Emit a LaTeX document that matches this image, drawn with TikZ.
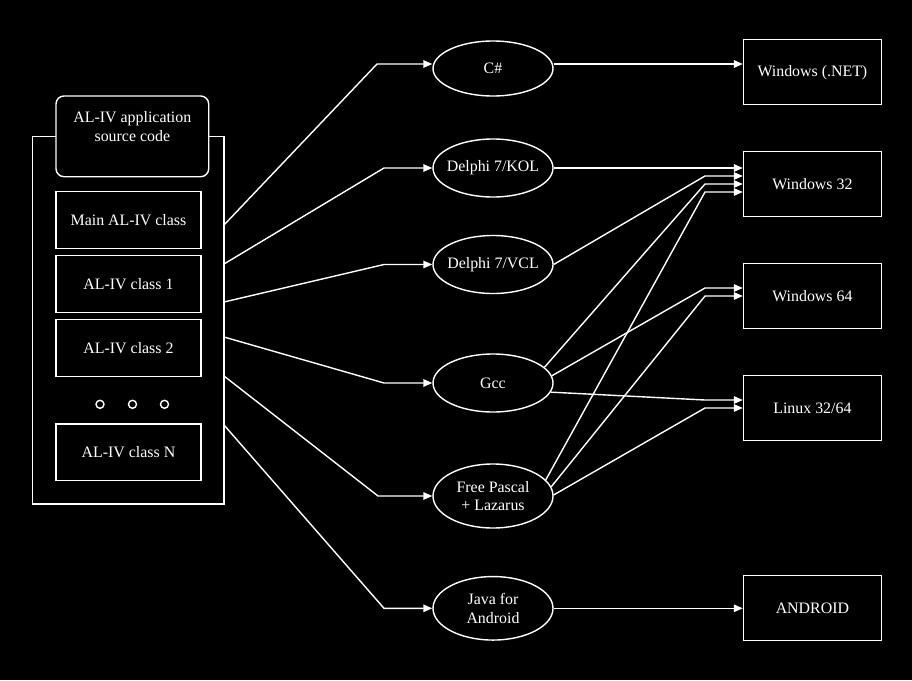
\documentclass[tikz,border=0pt]{standalone}
\usepackage{fontspec}
\setmainfont{Liberation Serif}
\usetikzlibrary{shapes.geometric,arrows.meta}
\begin{document}
\begin{tikzpicture}[x=1pt,y=-1pt,
  every node/.style={text=white,font=\fontsize{15.9}{18.5}\selectfont},
  line/.style={draw=white,line width=1.4pt},
  sbox/.style={line,minimum width=145pt,minimum height=56.6pt,inner sep=0pt},
  tbox/.style={line,minimum width=137.8pt,minimum height=65pt,inner sep=0pt},
  lang/.style={line,ellipse,minimum width=120pt,minimum height=58pt,inner ysep=0pt,inner xsep=-12pt,align=center},
  conn/.style={white,line width=1.4pt,-{Triangle[length=9pt,width=7.5pt]}},
  dotc/.style={line,circle,minimum size=8pt,inner sep=0pt},
]
% background / bounding box
\fill[black] (0,0) rectangle (912,680);

% left container
\node[line,minimum width=191.5pt,minimum height=367.5pt,inner sep=0pt] (cont) at (128.25,320.25) {};
\node[line,fill=black,rounded corners=8pt,minimum width=152.7pt,minimum height=80.7pt,inner sep=0pt] (hdr) at (132.35,136.35) {};
\node[align=center] (hdrtxt) at (132.35,126.5) {AL-IV application\\source code};
\node[sbox] (mainc) at (128.5,220) {Main AL-IV class};
\node[sbox] (cls1) at (128.5,284) {AL-IV class 1};
\node[sbox] (cls2) at (128.5,348) {AL-IV class 2};
\node[sbox] (clsn) at (128.5,452.3) {AL-IV class N};
\node[dotc] (d1) at (100,404.3) {};
\node[dotc] (d2) at (132.5,404.3) {};
\node[dotc] (d3) at (164.5,404.3) {};

% languages
\node[lang,minimum height=55pt] (csharp) at (493,68.5) {C\#};
\node[lang] (kol) at (493,168) {Delphi 7/KOL};
\node[lang] (vcl) at (493,264.5) {Delphi 7/VCL};
\node[lang] (gcc) at (493,383) {Gcc};
\node[lang,minimum height=64pt] (fpc) at (493,496) {Free Pascal\\+ Lazarus};
\node[lang,minimum height=63.5pt] (java) at (493,608.3) {Java for\\Android};

% targets
\node[tbox] (net) at (812.4,72.2) {Windows (.NET)};
\node[tbox] (w32) at (812.4,184) {Windows 32};
\node[tbox] (w64) at (812.4,296) {Windows 64};
\node[tbox] (lin) at (812.4,408) {Linux 32/64};
\node[tbox] (andr) at (812.4,608) {ANDROID};

% start points on container
\coordinate (s1) at (224,225);
\coordinate (s2) at (224,264);
\coordinate (s3) at (224,302);
\coordinate (s4) at (224,337);
\coordinate (s5) at (224,376);
\coordinate (s6) at (224,425);
% bends
\coordinate (b1) at (377,64);
\coordinate (b2) at (384,168);
\coordinate (b3) at (384,264.5);
\coordinate (b4) at (384,383);
\coordinate (b5) at (378,496);
\coordinate (b6) at (384,608.3);

\draw[conn] (s1) -- (b1) -- (csharp.west |- b1);
\draw[conn] (s2) -- (b2) -- (kol.west);
\draw[conn] (s3) -- (b3) -- (vcl.west);
\draw[conn] (s4) -- (b4) -- (gcc.west);
\draw[conn] (s5) -- (b5) -- (fpc.west);
\draw[conn] (s6) -- (b6) -- (java.west);

% right bends
\coordinate (r1) at (705,176);
\coordinate (r2) at (705,184);
\coordinate (r3) at (705,192);
\coordinate (r4) at (705,288);
\coordinate (r5) at (705,296);
\coordinate (r6) at (705,400);
\coordinate (r7) at (705,408);

\draw[conn] (csharp.east |- b1) -- (net.west |- b1);
\draw[conn] (kol.east) -- (kol.east -| w32.west);
\draw[conn] (vcl.east) -- (r1) -- (w32.west |- r1);
\draw[conn] (gcc.17) -- (r2) -- (w32.west |- r2);
\draw[conn] (fpc.17) -- (r3) -- (w32.west |- r3);
\draw[conn] (gcc.7) -- (r4) -- (w64.west |- r4);
\draw[conn] (fpc.9) -- (r5) -- (w64.west |- r5);
\draw[conn] (gcc.-9) -- (r6) -- (lin.west |- r6);
\draw[conn] (fpc.1) -- (r7) -- (lin.west |- r7);
\draw[conn] (java.east) -- (java.east -| andr.west);
\end{tikzpicture}
\end{document}
